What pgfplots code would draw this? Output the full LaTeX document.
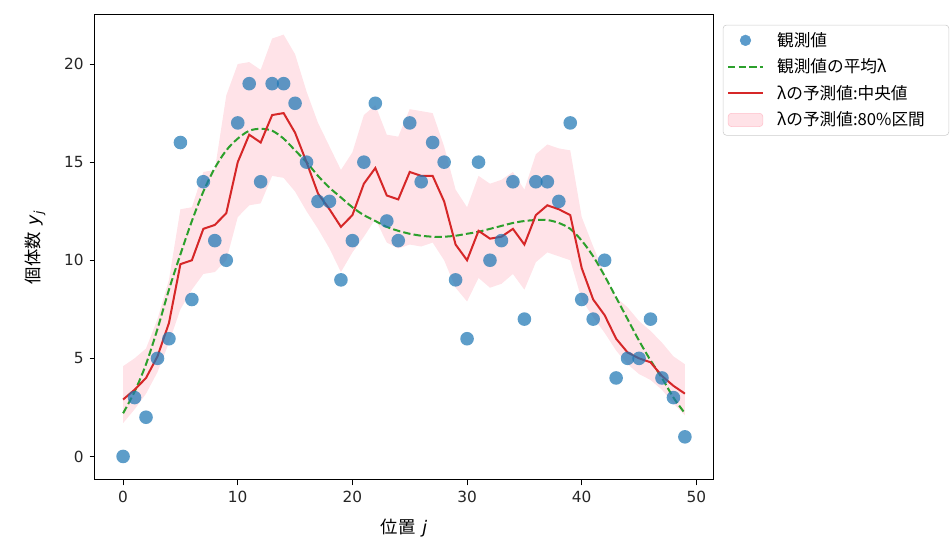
\documentclass[border=0pt]{standalone}
\usepackage{pgfplots}
\pgfplotsset{compat=1.18}
\usepackage{pgfplotstable}
\usepgfplotslibrary{fillbetween}
\usepackage{fontspec}
\setmainfont{Noto Sans CJK JP}
\newfontfamily\dv{DejaVu Sans}
\definecolor{tabblue}{HTML}{1F77B4}
\definecolor{tabgreen}{HTML}{2CA02C}
\definecolor{tabred}{HTML}{D62728}
\definecolor{bandpink}{HTML}{FFC0CB}
\definecolor{ptblue}{HTML}{5B9BCB}
\pgfplotsset{
  bandlegend/.style={legend image code/.code={\fill[bandpink, fill opacity=0.45] (0pt,-5pt) rectangle (26pt,5pt);}},
  ptlegend/.style={legend image code/.code={\fill[ptblue] (13pt,0pt) circle (4pt);}},
}
\pgfplotstableread{
x obs mean med lo hi
0 0 2.2 2.9 1.7 4.6
1 3 3.3 3.4 2.4 5.0
2 2 4.7 4.0 3.2 5.5
3 5 6.5 5.1 4.3 7.0
4 6 8.5 6.8 5.8 9.0
5 16 10.3 9.8 7.5 12.6
6 8 12.0 10.0 8.5 12.7
7 14 13.5 11.6 9.3 14.5
8 11 14.7 11.8 9.4 14.6
9 10 15.6 12.4 10.0 18.4
10 17 16.2 15.0 12.2 20.0
11 19 16.6 16.4 12.8 20.1
12 14 16.7 16.0 12.9 19.7
13 19 16.6 17.4 14.3 21.3
14 19 16.2 17.5 14.2 21.5
15 18 15.6 16.5 13.5 20.5
16 15 15.0 15.0 12.5 18.6
17 13 14.3 13.4 11.6 17.0
18 13 13.7 12.6 10.6 15.8
19 9 13.2 11.7 9.4 14.6
20 11 12.7 12.3 10.4 15.5
21 15 12.3 13.9 11.2 17.4
22 18 12.0 14.7 12.1 17.9
23 12 11.7 13.3 10.9 16.4
24 11 11.5 13.1 10.6 16.3
25 17 11.35 14.5 10.8 17.7
26 14 11.25 14.3 10.7 17.6
27 16 11.2 14.3 10.9 17.5
28 15 11.2 13.0 10.0 15.8
29 9 11.25 10.8 8.6 13.6
30 6 11.35 10.0 7.9 12.7
31 15 11.45 11.5 9.1 14.3
32 10 11.6 11.1 8.6 13.9
33 11 11.75 11.2 8.8 14.1
34 14 11.9 11.6 9.3 14.5
35 7 12.0 10.8 8.5 13.6
36 14 12.05 12.3 9.9 15.4
37 14 12.05 12.8 10.4 15.9
38 13 11.9 12.6 10.2 15.7
39 17 11.6 12.3 10.0 15.6
40 8 11.0 9.6 8.0 12.2
41 7 10.2 8.0 7.1 10.7
42 10 9.2 7.2 6.3 9.3
43 4 8.1 6.0 5.4 8.1
44 5 7.0 5.3 4.7 7.6
45 5 5.9 5.0 4.2 6.9
46 7 4.9 4.8 3.9 6.4
47 4 4.0 4.1 3.4 5.8
48 3 3.0 3.6 2.7 5.1
49 1 2.2 3.2 2.1 4.7
}\data
\begin{document}
\begin{tikzpicture}
\begin{axis}[
  at={(0pt,0pt)}, anchor=south west,
  scale only axis,
  width=463.5pt, height=348.75pt,
  xmin=-2.45, xmax=51.45, ymin=-1.2, ymax=22.5,
  xtick={0,10,20,30,40,50}, ytick={0,5,10,15,20},
  tick pos=left,
  tick align=outside, major tick length=4pt,
  tick style={black, line width=0.6pt},
  axis line style={black, line width=0.75pt},
  /pgf/number format/assume math mode=true,
  tick label style={font=\dv\fontsize{11.5}{13}\selectfont, text=black!85},
  xticklabel style={yshift=-1pt},
  yticklabel style={xshift=-1pt},
  xlabel={位置\hspace{0.4em}{\dv\itshape j}},
  ylabel={個体数\hspace{0.4em}{\dv\itshape y\textsubscript{j}}},
  label style={font=\fontsize{13}{15}\selectfont},
  xlabel style={at={(axis description cs:0.5,-0.103)}, anchor=center},
  ylabel style={at={(axis description cs:-0.097,0.5)}, anchor=center},
  legend style={at={(1.016,0.979)}, anchor=north west, draw=black!20, rounded corners=2.5pt,
    font=\fontsize{12.5}{14}\selectfont, row sep=3.9pt, inner xsep=3pt, inner ysep=3.5pt,
    /tikz/every odd column/.append style={column sep=8pt}},
  legend cell align=left,
  legend image code/.code={\draw[#1] (0pt,0pt) -- (26pt,0pt);},
]
\addlegendimage{ptlegend}
\addlegendentry{観測値}
\addlegendimage{tabgreen, line width=1.5pt, dash pattern=on 5.5pt off 2.4pt}
\addlegendentry{観測値の平均λ}
\addlegendimage{tabred, line width=1.5pt}
\addlegendentry{λの予測値:中央値}
\addlegendimage{bandlegend}
\addlegendentry{λの予測値:80\%区間\rule{13pt}{0pt}}

\addplot[draw=none, name path=hi, forget plot] table[x=x, y=hi] {\data};
\addplot[draw=none, name path=lo, forget plot] table[x=x, y=lo] {\data};
\addplot[bandpink, fill opacity=0.45, forget plot] fill between[of=hi and lo];
\addplot[only marks, mark=*, mark size=5.1pt, color=tabblue, forget plot,
  mark options={fill=tabblue, draw=tabblue, fill opacity=0.72, draw opacity=0}] table[x=x, y=obs] {\data};
\addplot[tabgreen, line width=1.5pt, dash pattern=on 5.5pt off 2.4pt, forget plot, smooth] table[x=x, y=mean] {\data};
\addplot[tabred, line width=1.5pt, forget plot] table[x=x, y=med] {\data};
\end{axis}
\useasboundingbox (-71.25pt,-52.5pt) rectangle (642pt,360pt);
\end{tikzpicture}
\end{document}
